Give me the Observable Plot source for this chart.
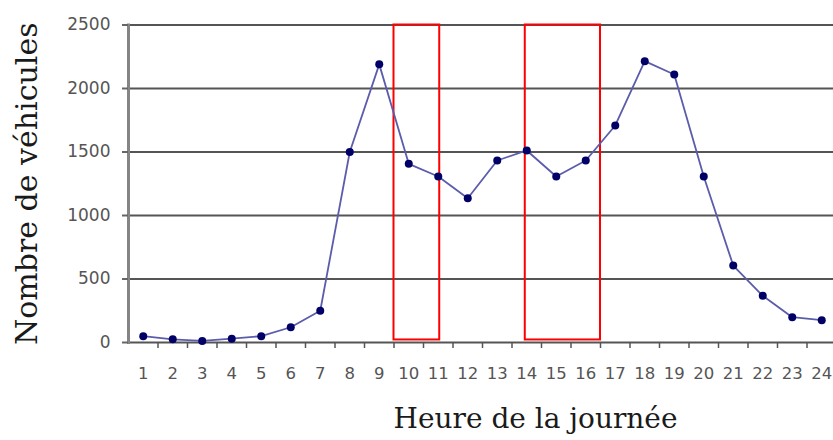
<!DOCTYPE html>
<html>
<head>
<meta charset="utf-8">
<script src="https://cdn.jsdelivr.net/npm/d3@7"></script>
<script src="https://cdn.jsdelivr.net/npm/@observablehq/plot@0.6"></script>
<style>
  html, body { margin: 0; padding: 0; background: #fff; }
</style>
</head>
<body>
<div id="chart"></div>
<script>
const hours = [1, 2, 3, 4, 5, 6, 7, 8, 9, 10, 11, 12, 13, 14, 15, 16, 17, 18, 19, 20, 21, 22, 23, 24];
const vehicles = [50, 25, 12, 30, 50, 120, 250, 1500, 2190, 1407, 1307, 1136, 1433, 1512, 1307, 1433, 1709, 2215, 2110, 1307, 606, 368, 199, 176];
const yTicks = [0, 500, 1000, 1500, 2000, 2500];
const boxStart = [9.5, 13.95];
const boxEnd = [11.05, 16.5];
const boxLow = [20, 20];
const boxHigh = [2500, 2500];
const xTitle = "Heure de la journée";
const yTitle = "Nombre de véhicules";

const data = hours.map((h, i) => ({hour: h, vehicles: vehicles[i]}));
const boxes = boxStart.map((s, i) => ({x1: s, x2: boxEnd[i], y1: boxLow[i], y2: boxHigh[i]}));
const boundaries = hours.slice(0, -1).map(h => h + 0.5);

const chart = Plot.plot({
  width: 833,
  height: 440,
  marginLeft: 128,
  marginRight: -3,
  marginTop: 24.5,
  marginBottom: 98,
  x: {domain: [0.5, 24.5]},
  y: {domain: [0, 2500]},
  style: {background: "#fff", fontFamily: "DejaVu Sans", color: "#555"},
  marks: [
    Plot.gridY(yTicks, {stroke: "#555", strokeOpacity: 1, strokeWidth: 2}),
    Plot.frame({anchor: "left", stroke: "#858585", strokeWidth: 3}),
    Plot.axisY(yTicks, {tickSize: 6, tickPadding: 12, fontSize: 17, tickFormat: d => String(d), stroke: "#666", strokeWidth: 2, label: null}),
    Plot.axisX(boundaries, {tickSize: 6, tickFormat: () => "", stroke: "#555", strokeWidth: 1.5, label: null}),
    Plot.axisX(hours, {tickSize: 0, tickPadding: 25, fontSize: 16.5, tickFormat: d => String(d), label: null}),
    Plot.rect(boxes, {x1: "x1", x2: "x2", y1: "y1", y2: "y2", fill: "none", stroke: "#ff0000", strokeWidth: 2}),
    Plot.line(data, {x: "hour", y: "vehicles", stroke: "#5c5cac", strokeWidth: 1.8}),
    Plot.dot(data, {x: "hour", y: "vehicles", r: 4, fill: "#000066", stroke: "none"}),
    Plot.text([yTitle], {frameAnchor: "left", rotate: -90, dx: -92, textAnchor: "middle", lineAnchor: "bottom", fontFamily: "DejaVu Serif", fontSize: 30, fill: "#1a1a1a"}),
    Plot.text([xTitle], {frameAnchor: "bottom", dx: 53, dy: 85, textAnchor: "middle", lineAnchor: "bottom", fontFamily: "DejaVu Serif", fontSize: 28, fill: "#1a1a1a"})
  ]
});
document.getElementById("chart").appendChild(chart);
</script>
</body>
</html>
